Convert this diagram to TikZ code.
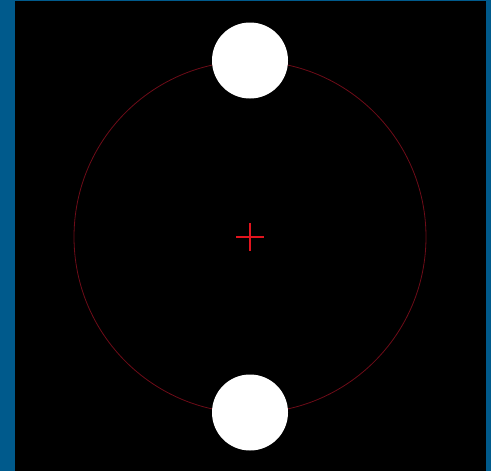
\documentclass[tikz,border=0pt]{standalone}
\usepackage{xcolor}
\usetikzlibrary{positioning}
\definecolor{frameBlue}{RGB}{0,90,140}
\definecolor{orbitRed}{RGB}{110,12,24}
\definecolor{crossRed}{RGB}{225,20,30}
\def\orbitR{176pt}
\def\ballSize{76pt}
\def\armLen{14pt}

\begin{document}
\begin{tikzpicture}[
    x=1pt, y=-1pt,
    ball/.style={circle, fill=white, minimum size=\ballSize, inner sep=0pt}
]
% background and frame
\fill[frameBlue] (0,0) rectangle (491,471);
\fill[black] (15,1) rectangle (486,471);
\useasboundingbox (0,0) rectangle (491,471);
% orbit
\coordinate (centre) at (250,237);
\draw[orbitRed, line width=0.8pt] (centre) circle[radius=\orbitR];
% centre mark
\draw[crossRed, line width=1.6pt]
    ([xshift=-\armLen]centre) -- ([xshift=\armLen]centre)
    ([yshift=-\armLen]centre) -- ([yshift=\armLen]centre);
% the two balls
\node[ball] (top) at (250,60.5) {};
\node[ball] (bottom) at (250,412.5) {};
\end{tikzpicture}
\end{document}
